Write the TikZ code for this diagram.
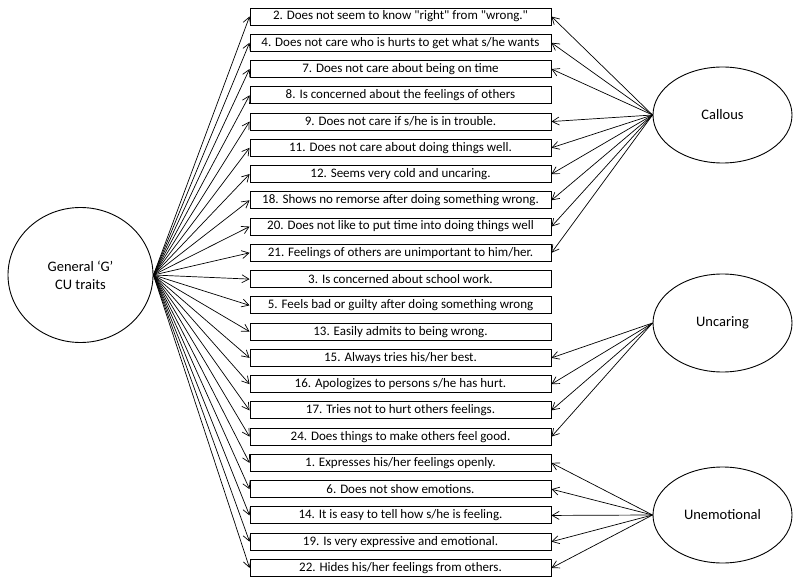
\documentclass[tikz,border=0pt]{standalone}
\usepackage{fontspec}
\setmainfont{Carlito}[Ligatures=TeXOff]
\usetikzlibrary{shapes.geometric,arrows.meta}
\tikzset{
  itembox/.style = {shape=rectangle, draw, line width=0.9pt, inner sep=0pt,
                    minimum width=301pt, minimum height=17pt,
                    font=\fontsize{13}{15}\selectfont},
  factor/.style  = {shape=ellipse, draw, line width=0.9pt, inner sep=0pt,
                    minimum width=139pt, minimum height=96pt, align=center,
                    font=\fontsize{14.5}{18}\selectfont},
  general/.style = {factor, minimum width=145pt, minimum height=135pt},
  loading/.style = {draw, line width=0.7pt, -{Straight Barb[length=7pt,width=8pt]}}
}

\begin{document}
\begin{tikzpicture}[x=1pt, y=-1pt]
  \useasboundingbox (0,0) rectangle (800,585);
  \node [general] (G) at (80.5,275) {General ‘G’\\CU traits};
  \node [factor] (callous) at (722.5,115) {Callous};
  \node [factor, minimum height=98pt] (uncaring) at (722.5,323) {Uncaring};
  \node [factor] (unemotional) at (722.5,515) {Unemotional};
  \foreach \txt [count=\i from 0] in {
      {2. Does not seem to know "right" from "wrong."},
      {4. Does not care who is hurts to get what s/he wants},
      {7. Does not care about being on time},
      {8. Is concerned about the feelings of others},
      {9. Does not care if s/he is in trouble.},
      {11. Does not care about doing things well.},
      {12. Seems very cold and uncaring.},
      {18. Shows no remorse after doing something wrong.},
      {20. Does not like to put time into doing things well},
      {21. Feelings of others are unimportant to him/her.},
      {3. Is concerned about school work.},
      {5. Feels bad or guilty after doing something wrong},
      {13. Easily admits to being wrong.},
      {15. Always tries his/her best.},
      {16. Apologizes to persons s/he has hurt.},
      {17. Tries not to hurt others feelings.},
      {24. Does things to make others feel good.},
      {1. Expresses his/her feelings openly.},
      {6. Does not show emotions.},
      {14. It is easy to tell how s/he is feeling.},
      {19. Is very expressive and emotional.},
      {22. Hides his/her feelings from others.}}
    \node [itembox] (item\i) at (400.5,16.5+26.26*\i) {\txt};
  \foreach \i in {0,...,21}
    \draw [loading] (G.east) -- (item\i.west);
  \foreach \i in {0,1,2,4,5,6,7,8,9}
    \draw [loading] (callous.west) -- (item\i.east);
  \foreach \i in {13,...,16}
    \draw [loading] (uncaring.west) -- (item\i.east);
  \foreach \i in {17,...,21}
    \draw [loading] (unemotional.west) -- (item\i.east);
\end{tikzpicture}
\end{document}
